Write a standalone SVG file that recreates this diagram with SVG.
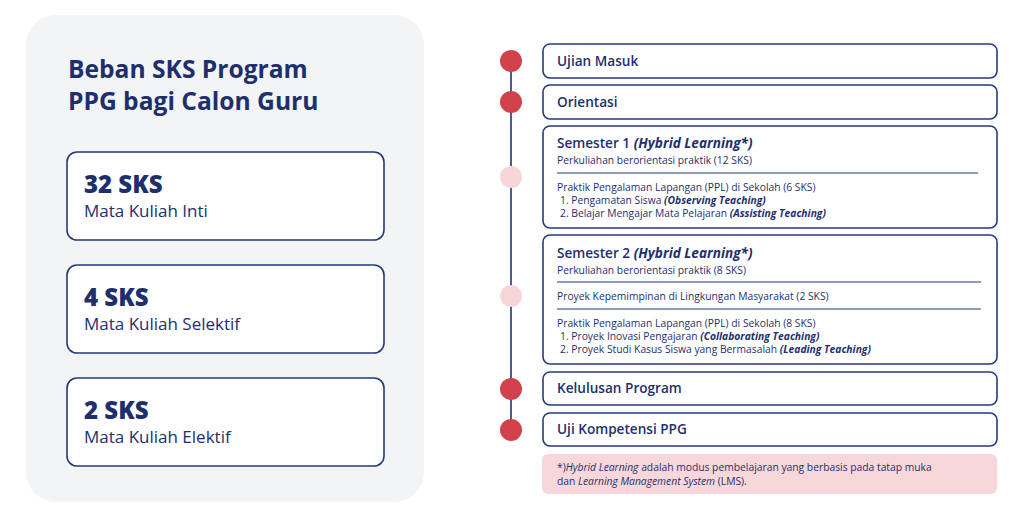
<svg xmlns="http://www.w3.org/2000/svg" width="1024" height="508" viewBox="0 0 1024 508">
<style>
text{font-family:"Open Sans","Noto Sans","Liberation Sans",sans-serif;fill:#1e2f6e}
.h{font-size:24.6px;font-weight:700}
.big{font-size:24px;font-weight:800}
.sub{font-size:17px;font-weight:500}
.box{fill:#fff;stroke:#253a7c;stroke-width:1.6}
.t{font-size:13.6px;font-weight:600}
.s{font-size:10.3px}
.bi{font-weight:700;font-style:italic}
.i{font-style:italic}
.sep{stroke:#253a7c;stroke-width:1.2}
.dot{fill:#d2424c}
.ldot{fill:#f6d6d9}
</style>
<rect x="0" y="0" width="1024" height="508" fill="#fff"/>
<g id="panel">
<rect x="26" y="15" width="398" height="487" rx="30" fill="#f3f4f6"/>
<text class="h" x="68" y="78">Beban SKS Program</text>
<text class="h" x="68" y="110">PPG bagi Calon Guru</text>
</g>
<g id="sks32">
<rect class="box" x="67" y="152" width="317" height="88" rx="10"/>
<text class="big" x="84" y="193">32 SKS</text>
<text class="sub" x="84" y="217">Mata Kuliah Inti</text>
</g>
<g id="sks4">
<rect class="box" x="67" y="265" width="317" height="88" rx="10"/>
<text class="big" x="84" y="306">4 SKS</text>
<text class="sub" x="84" y="330">Mata Kuliah Selektif</text>
</g>
<g id="sks2">
<rect class="box" x="67" y="378" width="317" height="88" rx="10"/>
<text class="big" x="84" y="419">2 SKS</text>
<text class="sub" x="84" y="443">Mata Kuliah Elektif</text>
</g>
<g id="connectors">
<line x1="511" y1="61" x2="511" y2="430" stroke="#4d5c8e" stroke-width="2"/>
<circle class="dot" cx="511" cy="61" r="11"/>
<circle class="dot" cx="511" cy="102" r="11"/>
<circle class="ldot" cx="511" cy="177" r="11"/>
<circle class="ldot" cx="511" cy="296" r="11"/>
<circle class="dot" cx="511" cy="389" r="11"/>
<circle class="dot" cx="511" cy="430" r="11"/>
</g>
<g id="ujian">
<rect class="box" x="543" y="44" width="454" height="34" rx="7"/>
<text class="t" x="557" y="66">Ujian Masuk</text>
</g>
<g id="orientasi">
<rect class="box" x="543" y="85" width="454" height="34" rx="7"/>
<text class="t" x="557" y="107">Orientasi</text>
</g>
<g id="semester1">
<rect class="box" x="543" y="126" width="454" height="102" rx="7"/>
<text class="t" x="557" y="148">Semester 1 <tspan class="bi">(Hybrid Learning*)</tspan></text>
<text class="s" x="557" y="164">Perkuliahan berorientasi praktik (12 SKS)</text>
<line class="sep" x1="557" y1="173" x2="978" y2="173"/>
<text class="s" x="557" y="191">Praktik Pengalaman Lapangan (PPL) di Sekolah (6 SKS)</text>
<text class="s" x="560" y="204">1. Pengamatan Siswa <tspan class="bi">(Observing Teaching)</tspan></text>
<text class="s" x="560" y="217">2. Belajar Mengajar Mata Pelajaran <tspan class="bi">(Assisting Teaching)</tspan></text>
</g>
<g id="semester2">
<rect class="box" x="543" y="235" width="454" height="129" rx="7"/>
<text class="t" x="557" y="258">Semester 2 <tspan class="bi">(Hybrid Learning*)</tspan></text>
<text class="s" x="557" y="274">Perkuliahan berorientasi praktik (8 SKS)</text>
<line class="sep" x1="557" y1="282" x2="981" y2="282"/>
<text class="s" x="557" y="300">Proyek Kepemimpinan di Lingkungan Masyarakat (2 SKS)</text>
<line class="sep" x1="557" y1="309" x2="981" y2="309"/>
<text class="s" x="557" y="327">Praktik Pengalaman Lapangan (PPL) di Sekolah (8 SKS)</text>
<text class="s" x="560" y="340">1. Proyek Inovasi Pengajaran <tspan class="bi">(Collaborating Teaching)</tspan></text>
<text class="s" x="560" y="353">2. Proyek Studi Kasus Siswa yang Bermasalah <tspan class="bi">(Leading Teaching)</tspan></text>
</g>
<g id="kelulusan">
<rect class="box" x="543" y="372" width="454" height="33" rx="7"/>
<text class="t" x="557" y="393">Kelulusan Program</text>
</g>
<g id="ujikom">
<rect class="box" x="543" y="413" width="454" height="33" rx="7"/>
<text class="t" x="557" y="434">Uji Kompetensi PPG</text>
</g>
<g id="footnote">
<rect x="542" y="454" width="455" height="40" rx="6" fill="#f8d7da"/>
<text class="s" x="557" y="471">*)<tspan class="i">Hybrid Learning</tspan> adalah modus pembelajaran yang berbasis pada tatap muka</text>
<text class="s" x="557" y="485">dan <tspan class="i">Learning Management System</tspan> (LMS).</text>
</g>
</svg>
